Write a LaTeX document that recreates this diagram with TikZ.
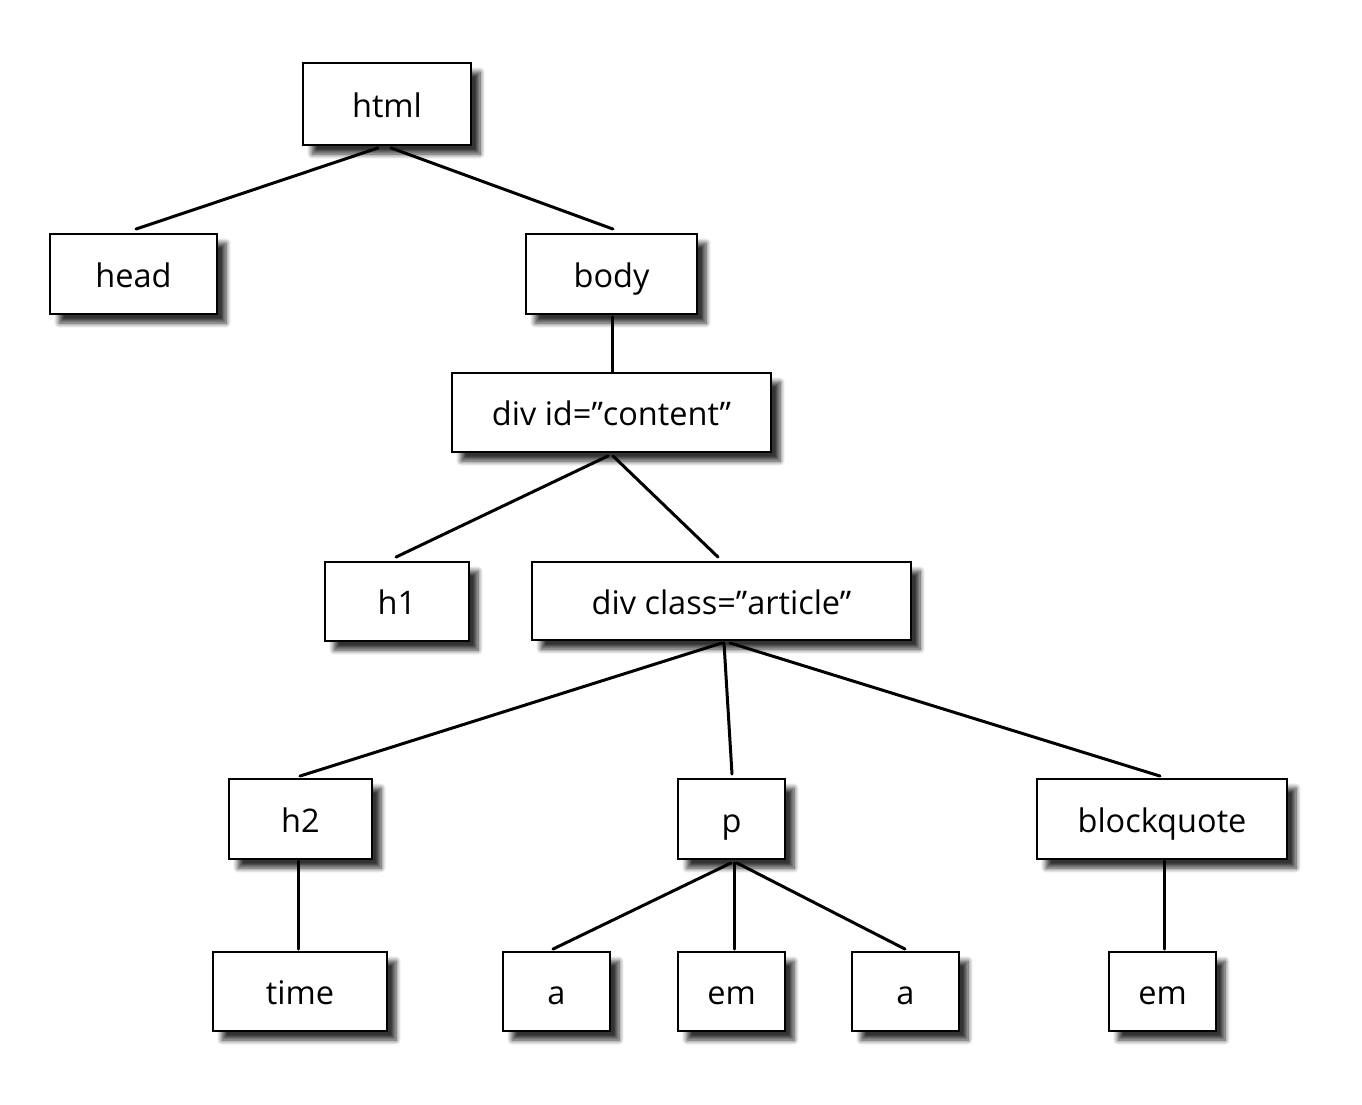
\documentclass[tikz,border=0pt]{standalone}
\usepackage{fontspec}
\setmainfont{Open Sans}
\usetikzlibrary{shadows.blur}
\begin{document}
\begin{tikzpicture}[x=1pt,y=-1pt,
  tag/.style={draw=black, line width=1.9pt, fill=white, inner sep=0pt,
    minimum height=80pt, font=\fontsize{32.5}{38}\selectfont,
    text height=30pt, text depth=4pt,
    blur shadow={shadow xshift=9pt, shadow yshift=-9pt, shadow blur steps=8, shadow blur radius=5pt, shadow opacity=80}},
  link/.style={line width=3pt, line cap=round}]
\useasboundingbox (0,0) rectangle (1362,1104);
\node[tag, minimum width=168pt, minimum height=82pt] (html) at (387,104) {html};
\node[tag, minimum width=167pt] (head) at (133.5,274) {head};
\node[tag, minimum width=171pt] (body) at (611.5,274) {body};
\node[tag, minimum width=319pt, minimum height=79pt] (content) at (611.5,412.5) {div id=”content”};
\node[tag, minimum width=144pt, minimum height=79pt] (h1) at (397,601.5) {h1};
\node[tag, minimum width=379pt, minimum height=78pt] (article) at (721.5,601) {div class=”article”};
\node[tag, minimum width=143pt] (h2) at (300.5,819) {h2};
\node[tag, minimum width=107pt] (p) at (731.5,819) {p};
\node[tag, minimum width=250pt] (bq) at (1162,819) {blockquote};
\node[tag, minimum width=174pt, minimum height=79pt] (time) at (300,991.5) {time};
\node[tag, minimum width=107pt, minimum height=79pt] (a1) at (556.5,991.5) {a};
\node[tag, minimum width=107pt, minimum height=79pt] (em1) at (731.5,991.5) {em};
\node[tag, minimum width=107pt, minimum height=79pt] (a2) at (905.5,991.5) {a};
\node[tag, minimum width=107pt, minimum height=79pt] (em2) at (1162.5,991.5) {em};
\draw[link] ([xshift=-9pt,yshift=-2pt]html.south) -- ([xshift=2.5pt,yshift=4pt]head.north);
\draw[link] ([xshift=4pt,yshift=-2pt]html.south) -- ([xshift=1.5pt,yshift=4pt]body.north);
\draw[link] ([xshift=0.5pt,yshift=-2pt]body.south) -- ([xshift=0.5pt]content.north);
\draw[link] ([xshift=-3.5pt,yshift=-3pt]content.south) -- ([xshift=-1pt,yshift=4pt]h1.north);
\draw[link] ([xshift=1.5pt,yshift=-3pt]content.south) -- ([xshift=-3.5pt,yshift=4pt]article.north);
\draw[link] ([xshift=0.5pt,yshift=-2pt]article.south) -- ([xshift=-0.5pt,yshift=2pt]h2.north);
\draw[link] ([xshift=2.5pt,yshift=-2pt]article.south) -- ([xshift=0.5pt,yshift=4pt]p.north);
\draw[link] ([xshift=8.5pt,yshift=-2pt]article.south) -- ([xshift=-2pt,yshift=2pt]bq.north);
\draw[link] ([xshift=-2.5pt,yshift=-1pt]h2.south) -- ([xshift=-2pt,yshift=2pt]time.north);
\draw[link] ([xshift=-0.5pt,yshift=-3pt]p.south) -- ([xshift=-3.5pt,yshift=2pt]a1.north);
\draw[link] ([xshift=2.5pt,yshift=-3pt]p.south) -- ([xshift=2.5pt,yshift=2pt]em1.north);
\draw[link] ([xshift=5.5pt,yshift=-3pt]p.south) -- ([xshift=-0.5pt,yshift=2pt]a2.north);
\draw[link] ([xshift=2pt,yshift=-1pt]bq.south) -- ([xshift=1.5pt,yshift=2pt]em2.north);
\end{tikzpicture}
\end{document}
